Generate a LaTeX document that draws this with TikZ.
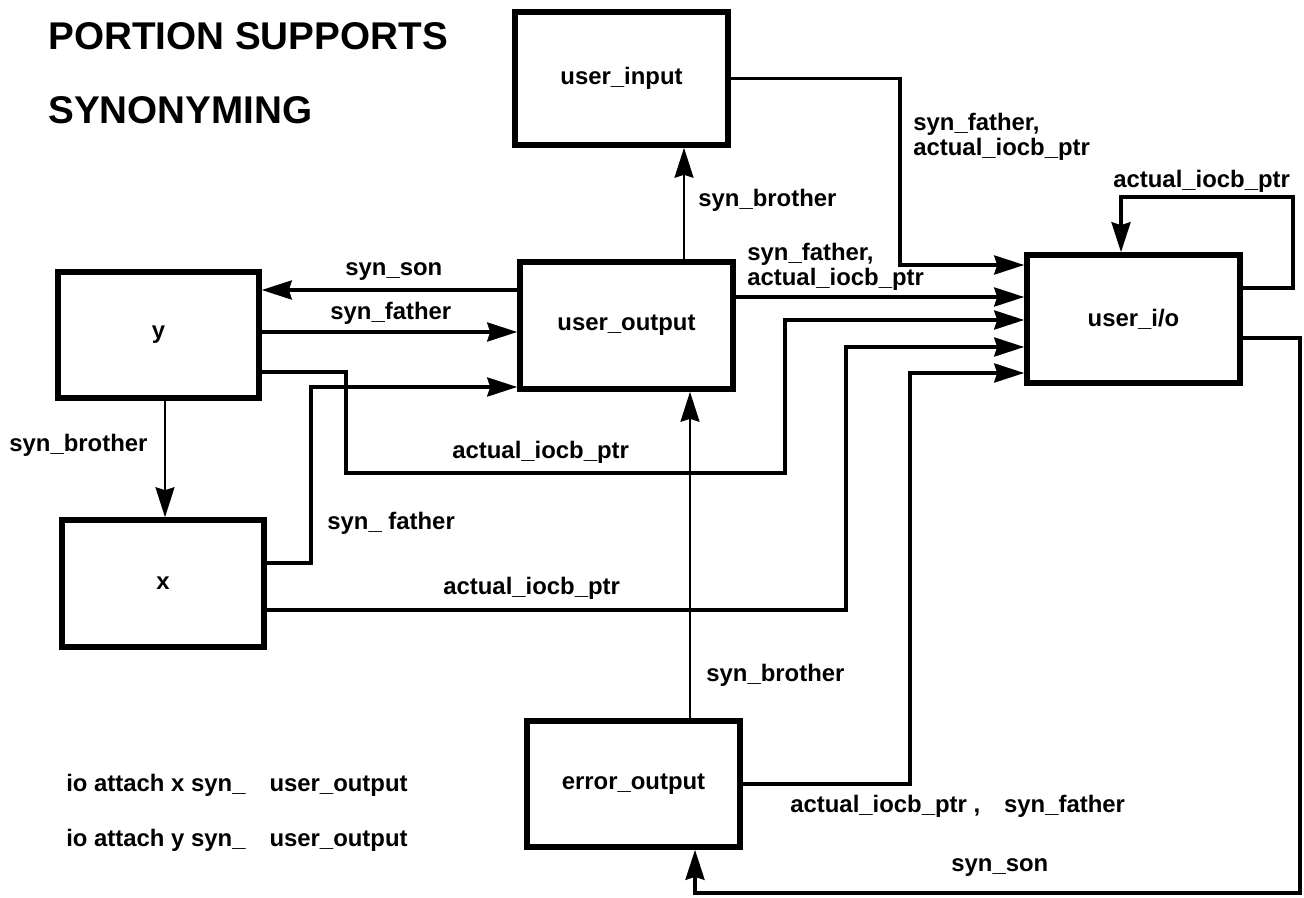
\documentclass[tikz,border=0pt]{standalone}
\usepackage{fontspec}
\setmainfont{Liberation Sans}
\usetikzlibrary{arrows.meta}
\newcommand{\lblfont}{\fontsize{13.6}{14.5}\selectfont}

\begin{document}
\begin{tikzpicture}[
    x=0.02cm, y=-0.02cm,
    >={Stealth[length=6mm, width=3.8mm, inset=0.6mm]},
    box/.style={rectangle, draw=black, line width=3.2pt, inner sep=0pt, font=\bfseries\lblfont},
    link/.style={->, line width=2pt},
    thinlink/.style={->, line width=1.2pt},
    tag/.style={inner sep=0pt, anchor=west, align=left, font=\bfseries\lblfont},
    headline/.style={inner sep=0pt, anchor=west, font=\bfseries\fontsize{22}{24}\selectfont}
]
\useasboundingbox (0,0) rectangle (1304,898);

\node [headline] (title1) at (48,36) {PORTION SUPPORTS};
\node [headline] (title2) at (48,110) {SYNONYMING};

\node [box, minimum width=4.26cm, minimum height=2.66cm] (uin) at (621.5,78.5) {user\_input};
\node [box, minimum width=4.26cm, minimum height=2.54cm] (uout) at (626.5,325.5) {user\_output};
\node [box, minimum width=4.26cm, minimum height=2.56cm] (uio) at (1133.5,319) {user\_i/o};
\node [box, minimum width=4.02cm, minimum height=2.52cm] (ybox) at (158.5,335) {y};
\node [box, minimum width=4.04cm, minimum height=2.54cm] (xbox) at (163,583.5) {x};
\node [box, minimum width=4.26cm, minimum height=2.52cm] (eout) at (633.5,784) {error\_output};

\draw [link] (uout.west |- 0,290) -- (ybox.east |- 0,290);
\node [tag] (lson) at (345,272) {syn\_son};
\draw [link] (ybox.east |- 0,332) -- (uout.west |- 0,332);
\node [tag] (lfather) at (330,313) {syn\_father};

\draw [link] (ybox.east |- 0,372) -| (346,473) -| (785,320) -- (uio.west |- 0,320);
\node [tag] (lyptr) at (452,452) {actual\_iocb\_ptr};

\draw [link] (uin.east) -| (900,265) -- (uio.west |- 0,265);
\node [tag] (lin) at (913,137) {syn\_father,\\actual\_iocb\_ptr};

\draw [link] (uout.east |- 0,297) -- (uio.west |- 0,297);
\node [tag] (lout) at (747,267) {syn\_father,\\actual\_iocb\_ptr};

\draw [link] (xbox.east |- 0,563) -| (311,387) -- (uout.west |- 0,387);
\node [tag] (lxfather) at (327,523) {syn\_ father};

\draw [link] (xbox.east |- 0,610) -| (846,347) -- (uio.west |- 0,347);
\node [tag] (lxptr) at (443,588) {actual\_iocb\_ptr};

\draw [link] (eout.east |- 0,784) -| (910,373) -- (uio.west |- 0,373);
\node [tag] (leptr) at (790,806) {actual\_iocb\_ptr ,\quad syn\_father};

\draw [link] (uio.east |- 0,288) -| (1293,197) -| (uio.north -| 1121,0);
\node [tag] (lloop) at (1113,181) {actual\_iocb\_ptr};

\draw [link] (uio.east |- 0,338) -| (1300,893) -| (eout.south -| 695,0);
\node [tag] (leson) at (951,868) {syn\_son};

\draw [thinlink] (eout.north -| 690,0) -- (uout.south -| 690,0);
\node [tag] (lebro) at (706,675) {syn\_brother};
\draw [thinlink] (uout.north -| 684,0) -- (uin.south -| 684,0);
\node [tag] (linbro) at (698,200) {syn\_brother};
\draw [thinlink] (ybox.south -| 165,0) -- (xbox.north -| 165,0);
\node [tag] (lybro) at (9,445) {syn\_brother};

\node [tag] (cmdx) at (66,785) {io attach x syn\_\quad user\_output};
\node [tag] (cmdy) at (66,840) {io attach y syn\_\quad user\_output};

\end{tikzpicture}
\end{document}
